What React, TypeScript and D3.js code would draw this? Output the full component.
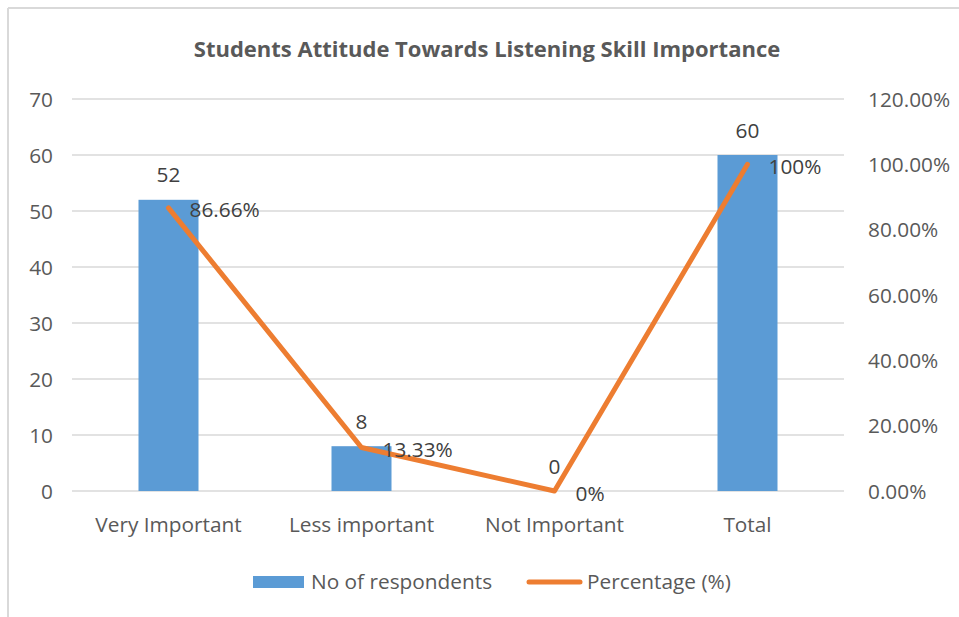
import React from "react";
import * as d3 from "d3";

const categories = ["Very Important", "Less important", "Not Important", "Total"];
const respondents = [52, 8, 0, 60];
const percentage = [0.8666, 0.1333, 0, 1.0];
const pctLabels = ["86.66%", "13.33%", "0%", "100%"];
const leftTicks = [0, 10, 20, 30, 40, 50, 60, 70];
const rightTicks = [0, 0.2, 0.4, 0.6, 0.8, 1.0, 1.2];

const W = 959;
const H = 617;
const FONT = "'Open Sans', sans-serif";
const FS = 20.8;

export default function App() {
  const x = d3.scaleBand<string>().domain(categories).range([72, 844]).padding(0);
  const yL = d3.scaleLinear().domain([0, 70]).range([491, 99]);
  const yR = d3.scaleLinear().domain([0, 1.2]).range([491, 99]);
  const barW = 60;
  const cx = (c: string) => (x(c) as number) + x.bandwidth() / 2;
  const line = d3
    .line<number>()
    .x((_, i) => cx(categories[i]))
    .y((d) => yR(d));
  const fmtR = (v: number) => (v * 100).toFixed(2) + "%";

  return (
    <svg
      width={W}
      height={H}
      style={{ position: "absolute", left: 0, top: 0, display: "block", background: "#fff" }}
      fontFamily={FONT}
    >
      <rect x={0} y={0} width={W} height={H} fill="#fff" />
      <line x1={8} y1={8} x2={W} y2={8} stroke="#d9d9d9" strokeWidth={2} />
      <line x1={8} y1={8} x2={8} y2={H} stroke="#d9d9d9" strokeWidth={2} />

      <text x={487} y={57} textAnchor="middle" fontSize={22} fontWeight="bold" fill="#595959">
        Students Attitude Towards Listening Skill Importance
      </text>

      {leftTicks.map((t) => (
        <g key={"l" + t}>
          <line x1={72} x2={844} y1={yL(t)} y2={yL(t)} stroke="#d9d9d9" strokeWidth={1.5} />
          <text x={53} y={yL(t) + 7.5} textAnchor="end" fontSize={FS} fill="#595959">
            {t}
          </text>
        </g>
      ))}
      {rightTicks.map((t) => (
        <text key={"r" + t} x={868} y={yR(t) + 7.5} textAnchor="start" fontSize={FS} fill="#595959">
          {fmtR(t)}
        </text>
      ))}

      {categories.map((c, i) => (
        <g key={c}>
          <rect
            x={cx(c) - barW / 2}
            y={yL(respondents[i])}
            width={barW}
            height={yL(0) - yL(respondents[i])}
            fill="#5b9bd5"
          />
          <text x={cx(c)} y={532} textAnchor="middle" fontSize={FS} fill="#595959">
            {c}
          </text>
        </g>
      ))}

      <path
        d={line(percentage) || ""}
        fill="none"
        stroke="#ed7d31"
        strokeWidth={5}
        strokeLinecap="round"
        strokeLinejoin="round"
      />

      {categories.map((c, i) => (
        <g key={"lab" + c}>
          <text x={cx(c)} y={yL(respondents[i]) - 17.5} textAnchor="middle" fontSize={FS} fill="#404040">
            {respondents[i]}
          </text>
          <text x={cx(c) + 21} y={yR(percentage[i]) + 9.5} textAnchor="start" fontSize={FS} fill="#404040">
            {pctLabels[i]}
          </text>
        </g>
      ))}

      <rect x={253} y={576} width={51} height={12} fill="#5b9bd5" />
      <text x={311} y={589} fontSize={FS} fill="#595959">
        No of respondents
      </text>
      <line x1={529} x2={580} y1={582} y2={582} stroke="#ed7d31" strokeWidth={5} strokeLinecap="round" />
      <text x={587} y={589} fontSize={FS} fill="#595959">
        Percentage (%)
      </text>
    </svg>
  );
}
